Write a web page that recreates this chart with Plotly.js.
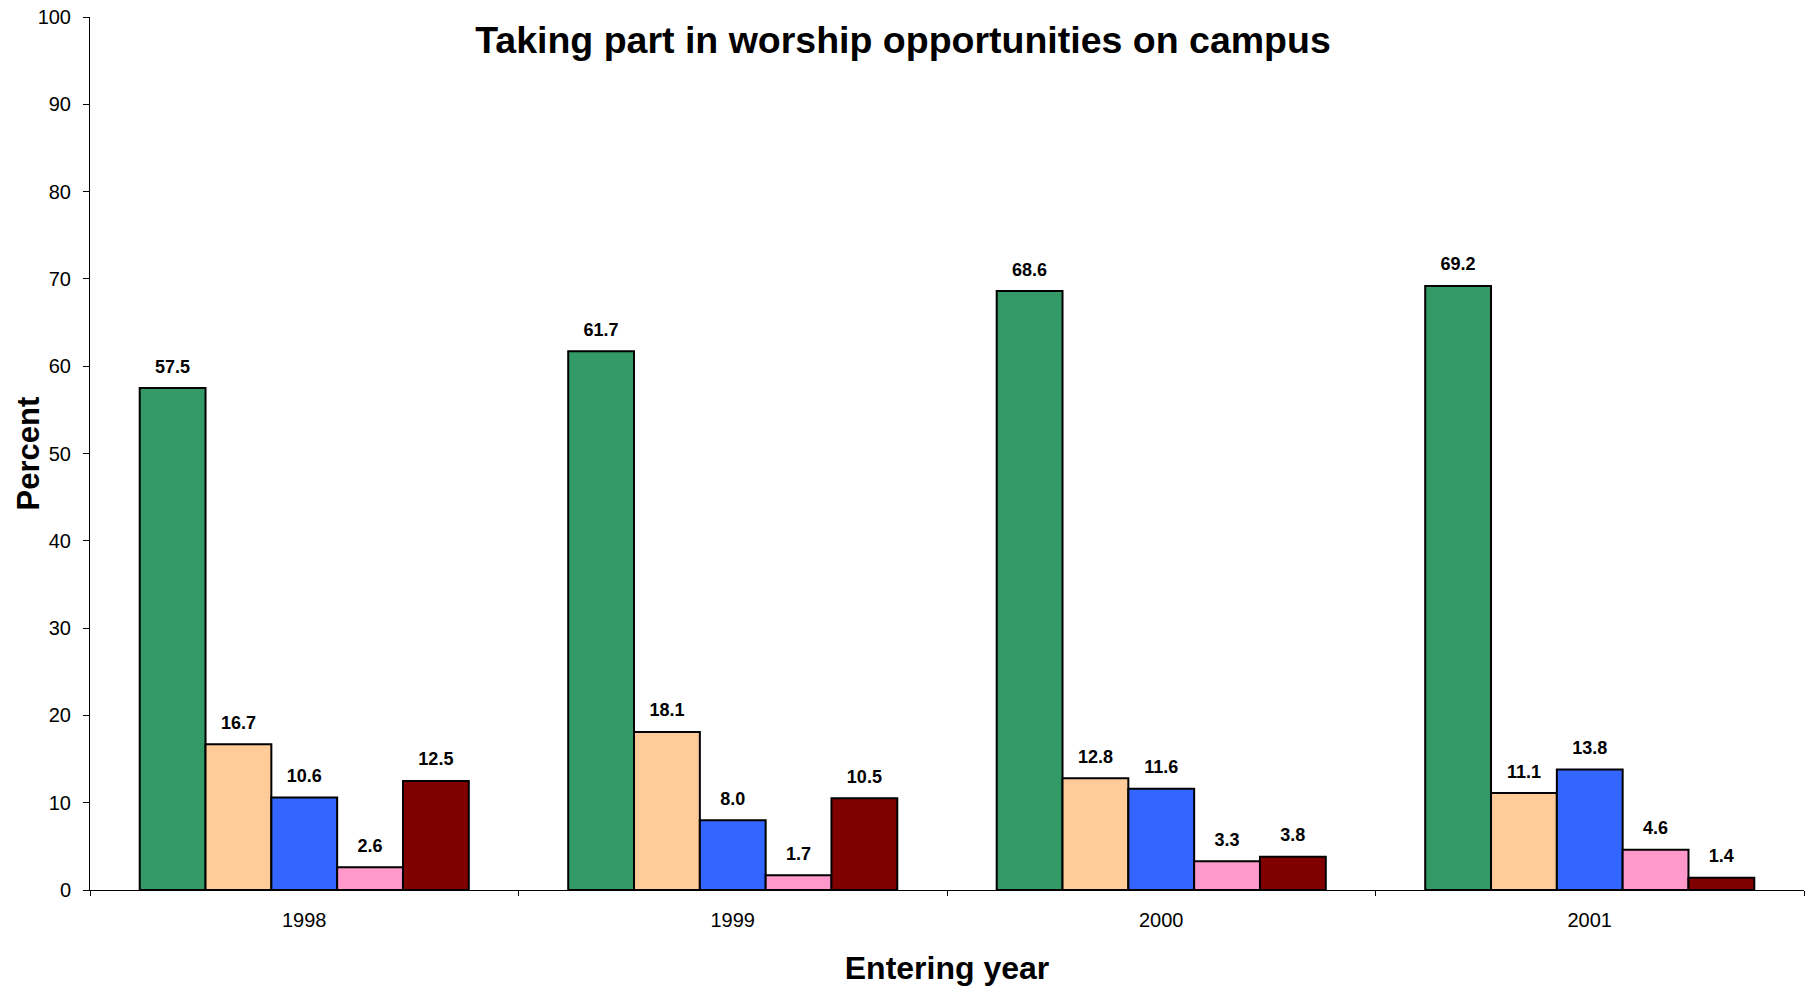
<!DOCTYPE html>
<html>
<head>
<meta charset="utf-8">
<script src="https://cdn.plot.ly/plotly-3.0.1.min.js"></script>
<style>html,body{margin:0;padding:0;background:#fff;}#chart{width:1811px;height:987px;}</style>
</head>
<body>
<div id="chart"></div>
<script>
const years = ['1998', '1999', '2000', '2001'];
const seriesNames = ['Series 1', 'Series 2', 'Series 3', 'Series 4', 'Series 5'];
const series1 = [57.5, 61.7, 68.6, 69.2];
const series2 = [16.7, 18.1, 12.8, 11.1];
const series3 = [10.6, 8.0, 11.6, 13.8];
const series4 = [2.6, 1.7, 3.3, 4.6];
const series5 = [12.5, 10.5, 3.8, 1.4];
const colors = ['#339966', '#FFCC99', '#3366FF', '#FF99CC', '#800000'];
const yTicks = [0, 10, 20, 30, 40, 50, 60, 70, 80, 90, 100];

const allSeries = [series1, series2, series3, series4, series5];
const barTraces = allSeries.map((vals, i) => ({
  type: 'bar',
  name: seriesNames[i],
  x: years,
  y: vals,
  offsetgroup: String(i),
  marker: {color: colors[i], line: {color: '#000', width: 2}},
  hoverinfo: 'x+y'
}));
const labelTraces = allSeries.map((vals, i) => ({
  type: 'scatter',
  mode: 'markers+text',
  name: seriesNames[i] + ' labels',
  x: years,
  y: vals,
  offsetgroup: String(i),
  marker: {size: 16, opacity: 0, color: colors[i]},
  text: vals.map(v => v.toFixed(1)),
  textposition: 'top center',
  cliponaxis: false,
  textfont: {family: 'Liberation Sans, Arial, sans-serif', size: 18, color: '#000', weight: 'bold'},
  hoverinfo: 'skip'
}));

const layout = {
  width: 1811, height: 987,
  margin: {l: 90, r: 7, t: 17, b: 97},
  paper_bgcolor: '#fff', plot_bgcolor: '#fff',
  showlegend: false,
  barmode: 'group',
  scattermode: 'group',
  bargap: 0.232,
  scattergap: 0.232,
  bargroupgap: 0,
  font: {family: 'Liberation Sans, Arial, sans-serif', color: '#000'},
  title: {
    text: '<b>Taking part in worship opportunities on campus</b>',
    font: {size: 37.5, color: '#000'},
    x: 903 / 1811, xanchor: 'center',
    y: 1 - 40 / 987, yanchor: 'middle'
  },
  xaxis: {
    type: 'category',
    showline: true, linecolor: '#000', linewidth: 1,
    ticks: 'outside', ticklen: 5, tickcolor: '#000', tickson: 'boundaries',
    tickfont: {size: 20, color: '#000'},
    ticklabelstandoff: 12,
    showgrid: false, zeroline: false,
    title: {text: '<b>Entering year</b>', font: {size: 32, color: '#000'}, standoff: 26}
  },
  yaxis: {
    range: [0, 100],
    tickvals: yTicks,
    ticktext: yTicks.map(String),
    showline: true, linecolor: '#000', linewidth: 1,
    ticks: 'outside', ticklen: 6, tickcolor: '#000',
    tickfont: {size: 20, color: '#000'},
    ticklabelstandoff: 8,
    showgrid: false, zeroline: false
  },
  annotations: [{
    text: '<b>Percent</b>',
    xref: 'paper', yref: 'paper',
    x: 0, y: 0.5,
    xshift: -62, xanchor: 'center', yanchor: 'middle',
    textangle: -90,
    showarrow: false,
    font: {size: 31, color: '#000'}
  }]
};

Plotly.newPlot('chart', barTraces.concat(labelTraces), layout, {displayModeBar: false, staticPlot: true});
</script>
</body>
</html>
